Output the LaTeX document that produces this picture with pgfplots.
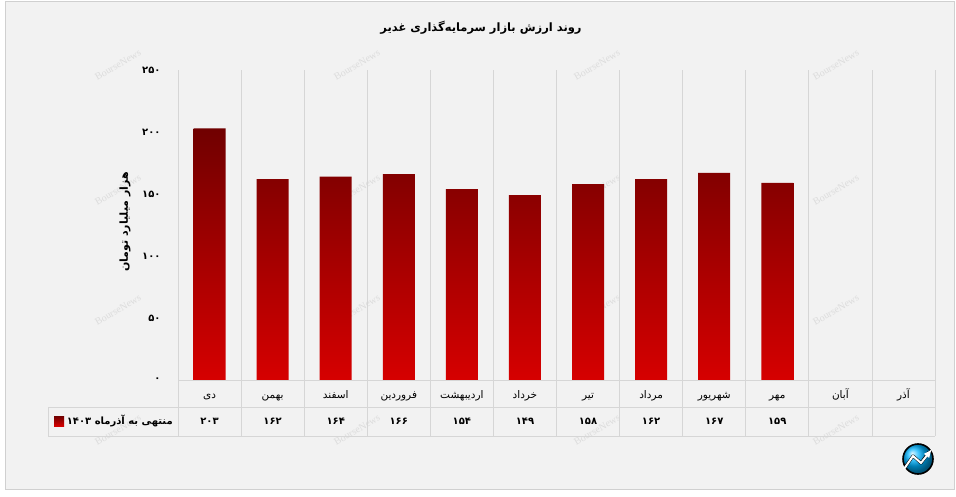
\documentclass[border=0pt]{standalone}
\usepackage{fontspec}
\usepackage{pgfplots}
\pgfplotsset{compat=1.18}
\TeXXeTstate=1
\newfontfamily\arabicfont[Script=Arabic]{DejaVu Sans}
\newfontfamily\wmfont{Liberation Serif}
\definecolor{bg}{HTML}{F2F2F2}
\definecolor{gridc}{HTML}{D6D6D6}
\definecolor{framec}{HTML}{D0D0D0}
\definecolor{bartop}{HTML}{700000}
\definecolor{barbot}{HTML}{D60000}
\definecolor{wm}{HTML}{DCDCDC}
\begin{document}
\begin{tikzpicture}[x=1pt,y=1pt]
% canvas and frame
\fill[white] (0,0) rectangle (956,496);
\filldraw[fill=bg, draw=framec, line width=1pt] (5,7) rectangle (954,494);
% watermarks
\foreach \wx in {118,357,597,836}{
  \foreach \wy in {431,306,186,66}{
    \node[rotate=30, text=wm, font=\wmfont\fontsize{10}{12}\selectfont] at (\wx,\wy) {BourseNews};
  }
}
\begin{axis}[
  at={(178pt,116pt)}, anchor=south west,
  scale only axis, width=757pt, height=310pt,
  xmin=-0.5, xmax=11.5, ymin=0, ymax=250,
  axis line style={draw=none},
  major tick length=0pt, minor tick length=0pt,
  xtick={0,...,11},
  xticklabels={\beginR دی\endR,\beginR بهمن\endR,\beginR اسفند\endR,\beginR فروردین\endR,\beginR اردیبهشت\endR,\beginR خرداد\endR,\beginR تیر\endR,\beginR مرداد\endR,\beginR شهریور\endR,\beginR مهر\endR,\beginR آبان\endR,\beginR آذر\endR},
  xticklabel style={font=\arabicfont\fontsize{10.5}{12}\selectfont, anchor=center, text height=7.5pt, text depth=2.5pt, inner sep=0pt, yshift=-15.5pt},
  minor xtick={-0.5,0.5,...,11.5},
  xminorgrids, minor grid style={gridc, line width=0.8pt},
  ytick={0,50,...,250},
  yticklabels={۰,۵۰,۱۰۰,۱۵۰,۲۰۰,۲۵۰},
  yticklabel style={font=\arabicfont\bfseries\fontsize{10}{12}\selectfont, anchor=east, xshift=-14pt},
  ybar, bar width=32pt,
  clip=false,
]
\addplot[draw=none, top color=bartop, bottom color=barbot] coordinates {
  (0,203) (1,162) (2,164) (3,166) (4,154) (5,149) (6,158) (7,162) (8,167) (9,159)
};
\end{axis}
% table lines
\draw[gridc, line width=0.8pt] (178,116) -- (935,116);
\draw[gridc, line width=0.8pt] (48,89) -- (935,89);
\draw[gridc, line width=0.8pt] (48,60) -- (935,60);
\draw[gridc, line width=0.8pt] (48,89) -- (48,60);
\foreach \k in {0,...,12}{
  \draw[gridc, line width=0.8pt] ({178+\k*757/12},116) -- ({178+\k*757/12},60);
}
% values row
\foreach \v [count=\i from 0] in {۲۰۳,۱۶۲,۱۶۴,۱۶۶,۱۵۴,۱۴۹,۱۵۸,۱۶۲,۱۶۷,۱۵۹}{
  \node[font=\arabicfont\bfseries\fontsize{10}{12}\selectfont, text height=7pt, text depth=2pt, inner sep=0pt] at ({178+(\i+0.5)*757/12},74.5) {\v};
}
% legend cell
\shade[top color=bartop, bottom color=barbot] (54,70) rectangle (64,80);
\node[font=\arabicfont\bfseries\fontsize{10}{12}\selectfont, anchor=east, inner sep=0pt, text height=7pt, text depth=2pt] at (173,74.5) {۱۴۰۳ \beginR منتهی به آذرماه\endR};
% title
\node[font=\arabicfont\bfseries\fontsize{11.5}{14}\selectfont] at (481,468) {\beginR روند ارزش بازار سرمایه^^^^200cگذاری غدیر\endR};
% y label
\node[rotate=90, font=\arabicfont\bfseries\fontsize{11}{13}\selectfont] at (125,274) {\beginR هزار میلیارد تومان\endR};
% logo
\shade[ball color=cyan!70!blue] (918,37) circle (15);
\draw[black, line width=1.6pt] (918,37) circle (15);
\draw[black, line width=3pt, line join=round] (906,30) -- (913,40) -- (921,33) -- (929,44);
\draw[white, line width=2pt, line join=round, -latex] (904,27) -- (913,40) -- (921,33) -- (932,47);
\end{tikzpicture}
\end{document}
